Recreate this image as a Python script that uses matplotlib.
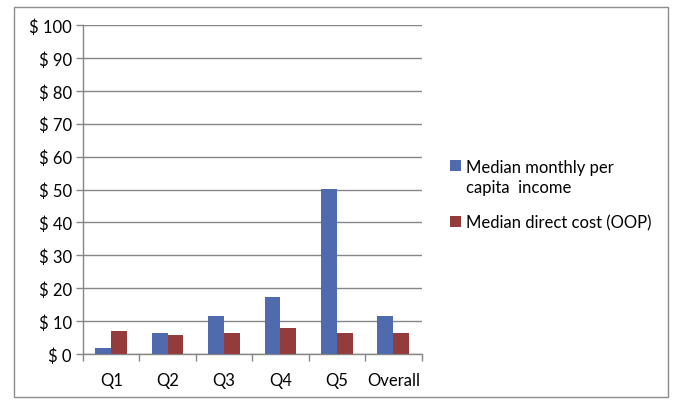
import matplotlib
matplotlib.use("Agg")
import matplotlib.pyplot as plt
import numpy as np
from matplotlib.patches import Rectangle

categories = ["Q1", "Q2", "Q3", "Q4", "Q5", "Overall"]
income = [1.9, 6.5, 11.5, 17.2, 50.2, 11.5]
oop = [6.9, 5.7, 6.5, 7.8, 6.5, 6.5]
yticks = list(range(0, 101, 10))
series_labels = ["Median monthly per\ncapita  income", "Median direct cost (OOP)"]
colors = ["#4F6BAD", "#943C3C"]

plt.rcParams['font.family'] = ['Lato', 'DejaVu Sans']

W, H = 676, 402
fig = plt.figure(figsize=(W/100, H/100), dpi=100)
fig.patches.append(Rectangle((14/W, 1-398/H), (668-14)/W, (398-8)/H,
                             transform=fig.transFigure, fill=False,
                             edgecolor="#8c8c8c", linewidth=1.0))

ax = fig.add_axes([83/W, 1-355/H, (421.5-83)/W, (355-26)/H])
x = np.arange(len(categories))
bw = 0.28
ax.bar(x - bw/2, income, bw, color=colors[0], label=series_labels[0], zorder=3)
ax.bar(x + bw/2, oop, bw, color=colors[1], label=series_labels[1], zorder=3)

ax.set_xlim(-0.5, len(categories) - 0.5)
ax.set_ylim(0, 100)
ax.set_yticks(yticks)
ax.set_yticklabels([f"$ {v}" for v in yticks], fontsize=12)
ax.yaxis.grid(True, color="#868686", linewidth=1.0, zorder=0)
ax.set_axisbelow(True)

ax.set_xticks(x)
ax.set_xticklabels(categories, fontsize=12)
ax.set_xticks(np.arange(-0.5, len(categories)), minor=True)
ax.tick_params(axis='x', which='major', length=0, pad=13)
ax.tick_params(axis='x', which='minor', length=5, color="#868686", width=1)
ax.tick_params(axis='y', length=5, color="#868686", width=1, pad=3)

for s in ["top", "right"]:
    ax.spines[s].set_visible(False)
for s in ["left", "bottom"]:
    ax.spines[s].set_color("#868686")
    ax.spines[s].set_linewidth(1.0)

# legend (placed manually to match layout)
legend_rows = [(161, 173), (217, 228)]  # (square top px, text baseline px)
for (sq_top, base), lab, col in zip(legend_rows, series_labels, colors):
    fig.patches.append(Rectangle((450/W, 1-(sq_top+11)/H), 11/W, 11/H,
                                 transform=fig.transFigure, facecolor=col,
                                 edgecolor="none"))
    lines = lab.split("\n")
    for i, line in enumerate(lines):
        fig.text(466/W, 1-(base+20*i)/H, line, fontsize=12,
                 ha="left", va="baseline")

fig.savefig("out.png", dpi=100)
